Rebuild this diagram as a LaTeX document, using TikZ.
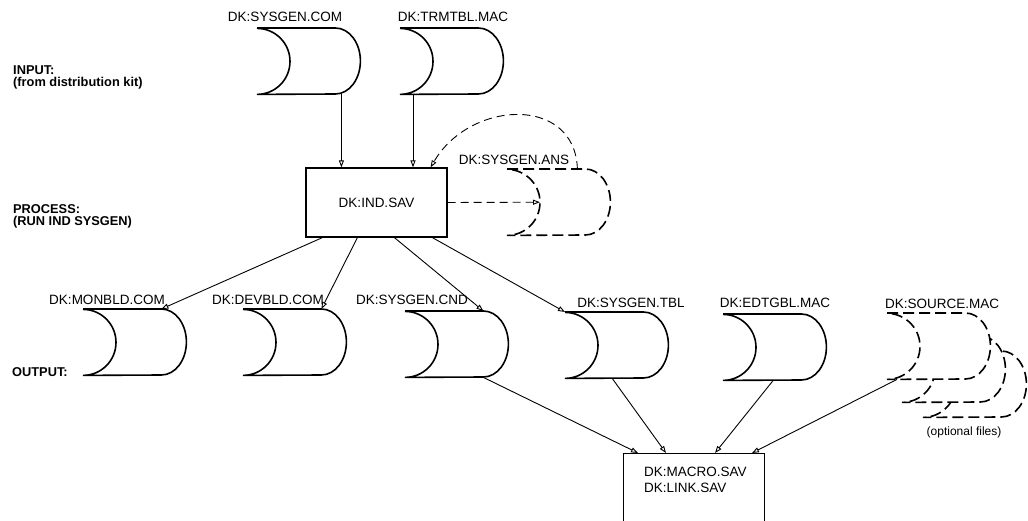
\documentclass[tikz,border=0pt]{standalone}
\usepackage{fontspec}
\setmainfont{Liberation Sans}
\usetikzlibrary{arrows.meta, calc}

\tikzset{
  diskbody/.style={rectangle, inner sep=0pt, minimum width=78pt, minimum height=66pt, anchor=north west},
  disk/.style={line width=1.6pt},
  dashdisk/.style={disk, dash pattern=on 11pt off 5pt},
  filelabel/.style={font=\fontsize{13.5}{16}\selectfont, inner sep=0pt},
  procbox/.style={draw, line width=1.2pt, inner sep=0pt, minimum width=141pt, minimum height=69pt, font=\fontsize{13.5}{16}\selectfont},
  stagelabel/.style={font=\bfseries\fontsize{12.8}{12.5}\selectfont, inner sep=0pt, align=left, anchor=west},
  flow/.style={-{Triangle[open,length=7pt,width=5pt]}, line width=0.9pt},
  dashflow/.style={flow, dash pattern=on 8pt off 5pt},
}

% file symbol: #2 name, #3 top left corner
\newcommand{\diskfile}[3][disk]{%
  \node[diskbody] (#2) at (#3) {};
  \fill[white] (#2.north west) -- (#2.north east)
    arc[start angle=90, end angle=-90, x radius=25pt, y radius=33pt] -- (#2.south west) -- cycle;
  \draw[#1] (#2.north west) -- (#2.north east)
    arc[start angle=90, end angle=-90, x radius=25pt, y radius=33pt]
    -- (#2.south west)
    arc[start angle=-90, end angle=90, x radius=33pt, y radius=33pt];
  \coordinate (#2-in) at ([xshift=33pt]#2.west);
}

\begin{document}
\begin{tikzpicture}[x=1pt, y=1pt]
  \useasboundingbox (0,0) rectangle (1028,-521);
  \clip (0,0) rectangle (1028,-521);

  % stages
  \node[stagelabel] (input) at (13,-77.5) {INPUT:\\(from distribution kit)};
  \node[stagelabel] (process) at (13,-216.5) {PROCESS:\\(RUN IND SYSGEN)};
  \node[stagelabel] (output) at (12,-372) {OUTPUT:};

  % input
  \diskfile{com}{257,-28}
  \diskfile{trm}{400,-28}
  \node[filelabel] (comname) at (285,-17) {DK:SYSGEN.COM};
  \node[filelabel] (trmname) at (453,-17) {DK:TRMTBL.MAC};

  % process
  \node[procbox] (ind) at (376.5,-202.5) {DK:IND.SAV};
  \diskfile[dashdisk]{ans}{507,-169}
  \node[filelabel] (ansname) at (514,-160) {DK:SYSGEN.ANS};

  % output
  \diskfile{mon}{83,-309}
  \diskfile{dev}{243,-309}
  \diskfile{cnd}{405,-311}
  \diskfile{tbl}{565,-312}
  \diskfile{edt}{723,-314}
  \diskfile[dashdisk]{srcc}{923,-351}
  \diskfile[dashdisk]{srcb}{902,-336}
  \diskfile[dashdisk]{src}{887,-313}
  \node[filelabel] (monname) at (107,-300) {DK:MONBLD.COM};
  \node[filelabel] (devname) at (268,-300) {DK:DEVBLD.COM};
  \node[filelabel] (cndname) at (412,-300) {DK:SYSGEN.CND};
  \node[filelabel] (tblname) at (631,-303) {DK:SYSGEN.TBL};
  \node[filelabel] (edtname) at (775,-303) {DK:EDTGBL.MAC};
  \node[filelabel] (srcname) at (942,-304) {DK:SOURCE.MAC};
  \node[filelabel, font=\fontsize{12}{14}\selectfont] (optname) at (964,-432) {(optional files)};

  \node[procbox, anchor=north west, minimum height=90pt] (mac) at (623,-453) {};
  \node[filelabel, anchor=north west, align=left] (macname) at ([xshift=21pt,yshift=-14pt]mac.north west) {DK:MACRO.SAV\\DK:LINK.SAV};

  \coordinate (comout) at ([xshift=6pt]com.south east);
  \coordinate (trmout) at ([xshift=13pt]trm.south west);

  \path[flow]
    (comout) edge (comout |- ind.north)
    (trmout) edge (trmout |- ind.north)
    ([xshift=17pt]ind.south west) edge (mon.north east)
    ([xshift=52pt]ind.south west) edge (dev.north east)
    ([xshift=89pt]ind.south west) edge (cnd.north east)
    ([xshift=127pt]ind.south west) edge (tbl.north west)
    (cnd.south east) edge ([xshift=15pt]mac.north west)
    ([xshift=8pt]tbl.south) edge ([xshift=43pt]mac.north west)
    ([xshift=11pt]edt.south) edge ([xshift=92pt]mac.north west)
    ([xshift=10pt]src.south west) edge ([xshift=129pt]mac.north west);

  \path[dashflow]
    (ind.east) edge (ans-in);
  \draw[dashflow] ([xshift=-8pt]ans.north east) .. controls (575,-95) and (470,-100) .. ([xshift=-17pt]ind.north east);
\end{tikzpicture}
\end{document}
